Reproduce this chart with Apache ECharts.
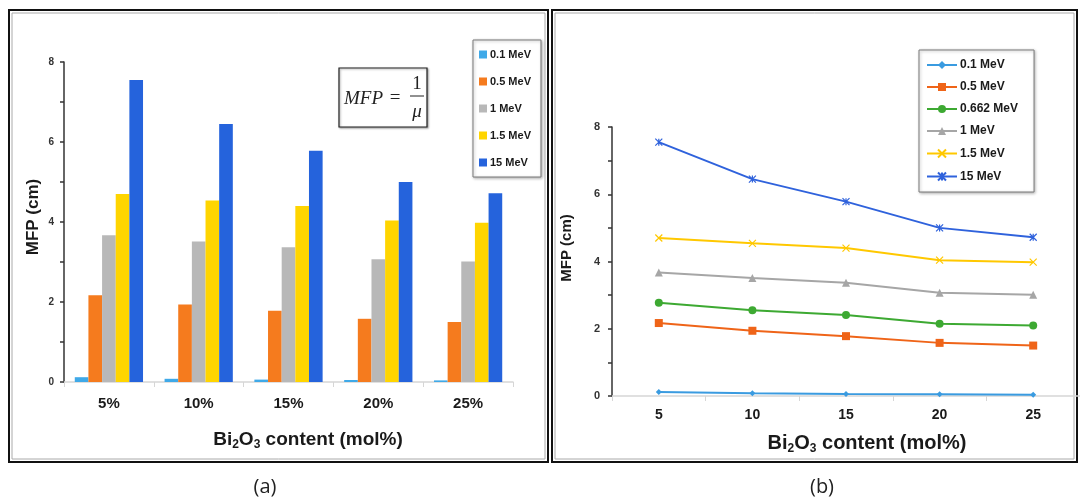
<!DOCTYPE html>
<html>
<head>
<meta charset="utf-8">
<script src="https://cdn.jsdelivr.net/npm/echarts@6/dist/echarts.min.js"></script>
<style>html,body{margin:0;padding:0;background:#fff}#c{width:1080px;height:500px}</style>
</head>
<body>
<div id="c"></div>
<script>
// ---- data ----
const categoriesA = ['5%', '10%', '15%', '20%', '25%'];
const categoriesB = ['5', '10', '15', '20', '25'];
const energiesA = ['0.1 MeV', '0.5 MeV', '1 MeV', '1.5 MeV', '15 MeV'];
const energiesB = ['0.1 MeV', '0.5 MeV', '0.662 MeV', '1 MeV', '1.5 MeV', '15 MeV'];
const yTicks = [0, 2, 4, 6, 8];

const mfp_0_1   = [0.12, 0.08, 0.06, 0.05, 0.04];
const mfp_0_5   = [2.17, 1.94, 1.78, 1.58, 1.50];
const mfp_0_662 = [2.77, 2.55, 2.41, 2.15, 2.10];
const mfp_1     = [3.67, 3.51, 3.37, 3.07, 3.01];
const mfp_1_5   = [4.70, 4.54, 4.40, 4.04, 3.98];
const mfp_15    = [7.55, 6.45, 5.78, 5.00, 4.72];

const barData = [mfp_0_1, mfp_0_5, mfp_1, mfp_1_5, mfp_15];
const lineData = [mfp_0_1, mfp_0_5, mfp_0_662, mfp_1, mfp_1_5, mfp_15];

// ---- styles ----
const barColors = ['#3fa9e8', '#f57b1e', '#b8b8b8', '#ffd500', '#2563dc'];
const lineColors = ['#3a9be0', '#ef6418', '#3da932', '#a6a6a6', '#ffc800', '#2f62dc'];
const lineSymbols = ['diamond', 'rect', 'circle', 'triangle',
  'path://M0,0L10,10M10,0L0,10',
  'path://M0,0L10,10M10,0L0,10M5,0L5,10'];
const lineSymbolSizes = [6, 8, 8, 8, 7, 7];
const SANS = '"Liberation Sans", Arial, sans-serif';
const txt = '#1a1a1a';

const chart = echarts.init(document.getElementById('c'));

const series = [];
barData.forEach((d, i) => {
  series.push({
    type: 'bar', name: energiesA[i], xAxisIndex: 0, yAxisIndex: 0, data: d,
    barGap: '0%', barCategoryGap: '24%',
    itemStyle: { color: barColors[i] }
  });
});
lineData.forEach((d, i) => {
  const isPath = lineSymbols[i].startsWith('path');
  series.push({
    type: 'line', name: 'b:' + energiesB[i], xAxisIndex: 1, yAxisIndex: 1, data: d,
    symbol: lineSymbols[i], symbolSize: lineSymbolSizes[i],
    lineStyle: { color: lineColors[i], width: 2 },
    itemStyle: isPath ? { color: 'none', borderColor: lineColors[i], borderWidth: 1.2 } : { color: lineColors[i] }
  });
});

const yAxisBase = (labelSize, margin) => ({
  type: 'value', min: yTicks[0], max: yTicks[yTicks.length - 1], interval: 2,
  axisLine: { show: true, lineStyle: { color: '#333', width: 1.5 } },
  axisTick: { show: true, length: 4, lineStyle: { color: '#333', width: 1.5 } },
  minorTick: { show: true, splitNumber: 2, length: 4, lineStyle: { color: '#333', width: 1.5 } },
  splitLine: { show: false },
  axisLabel: { fontSize: labelSize, fontWeight: 'bold', color: '#333', fontFamily: SANS, margin: margin }
});

const xAxisBase = (cats, labelSize, margin) => ({
  type: 'category', data: cats, boundaryGap: true,
  axisLine: { show: true, lineStyle: { color: '#d6d6d6', width: 1.5 } },
  axisTick: { show: true, length: 5, lineStyle: { color: '#d6d6d6' } },
  axisLabel: { fontSize: labelSize, fontWeight: 'bold', color: txt, fontFamily: SANS, margin: margin }
});

const legendBase = {
  orient: 'vertical', backgroundColor: '#fff',
  borderColor: '#7a7a7a', borderWidth: 1,
  shadowBlur: 3, shadowColor: 'rgba(0,0,0,0.3)', shadowOffsetX: 1, shadowOffsetY: 1,
  formatter: n => n.replace(/^b:/, ''),
  selectedMode: false
};

const sub = {
  n: { fontWeight: 'bold', fontFamily: SANS, fill: txt, verticalAlign: 'bottom', lineHeight: 22 },
  s: { fontWeight: 'bold', fontFamily: SANS, fill: txt, verticalAlign: 'bottom', lineHeight: 22 }
};
function xNameText(x, y, size) {
  return {
    type: 'text', x: x, y: y, z: 10,
    style: {
      text: '{n|Bi}{s|2}{n|O}{s|3}{n| content (mol%)}',
      align: 'center', verticalAlign: 'middle',
      rich: {
        n: Object.assign({}, sub.n, { fontSize: size }),
        s: Object.assign({}, sub.s, { fontSize: Math.round(size * 0.62), padding: [0, 0, -2, 0] })
      }
    }
  };
}

chart.setOption({
  backgroundColor: '#fff',
  animation: false,
  grid: [
    { left: 64, top: 62, width: 449, height: 320 },
    { left: 612, top: 127, width: 470, height: 269 }
  ],
  xAxis: [xAxisBase(categoriesA, 15, 14), Object.assign(xAxisBase(categoriesB, 14, 12), { gridIndex: 1 })],
  yAxis: [yAxisBase(10, 10), Object.assign(yAxisBase(11, 12), { gridIndex: 1 })],
  legend: [
    Object.assign({}, legendBase, {
      left: 473, top: 40, padding: [9, 10, 9, 6],
      itemWidth: 8, itemHeight: 8, itemGap: 16,
      data: energiesA.map(n => ({ name: n, icon: 'rect' })),
      textStyle: { fontSize: 11, fontWeight: 'bold', color: txt, fontFamily: SANS, padding: [0, 0, 0, -2] }
    }),
    Object.assign({}, legendBase, {
      left: 919, top: 50, padding: [9, 16, 9, 7],
      itemWidth: 30, itemHeight: 10, itemGap: 10,
      data: energiesB.map(n => 'b:' + n),
      textStyle: { fontSize: 12, fontWeight: 'bold', color: txt, fontFamily: SANS, padding: [0, 0, 0, -2] }
    })
  ],
  series: series,
  graphic: [
    // panel frames
    { type: 'rect', z: -1, shape: { x: 9, y: 10, width: 539, height: 452 }, style: { fill: 'none', stroke: '#111', lineWidth: 2 } },
    { type: 'rect', z: -1, shape: { x: 12, y: 13, width: 533, height: 446 }, style: { fill: 'none', stroke: '#aaa', lineWidth: 1 } },
    { type: 'rect', z: -1, shape: { x: 552, y: 10, width: 525, height: 452 }, style: { fill: 'none', stroke: '#111', lineWidth: 2 } },
    { type: 'rect', z: -1, shape: { x: 555, y: 13, width: 519, height: 446 }, style: { fill: 'none', stroke: '#aaa', lineWidth: 1 } },
    // formula box
    { type: 'rect', z: 5, shape: { x: 339, y: 68, width: 88, height: 59 },
      style: { fill: '#fff', stroke: '#222', lineWidth: 1.2, shadowBlur: 2, shadowColor: 'rgba(0,0,0,0.35)', shadowOffsetX: 1, shadowOffsetY: 1 } },
    { type: 'text', z: 6, x: 344, y: 99, style: { text: 'MFP', font: 'italic 19px "Liberation Serif", serif', fill: '#222', verticalAlign: 'middle' } },
    { type: 'text', z: 6, x: 395, y: 98, style: { text: '=', font: '19px "Liberation Serif", serif', fill: '#222', align: 'center', verticalAlign: 'middle' } },
    { type: 'text', z: 6, x: 417, y: 84, style: { text: '1', font: '19px "Liberation Serif", serif', fill: '#222', align: 'center', verticalAlign: 'middle' } },
    { type: 'line', z: 6, shape: { x1: 410, y1: 96, x2: 424, y2: 96 }, style: { stroke: '#222', lineWidth: 1 } },
    { type: 'text', z: 6, x: 417, y: 112, style: { text: 'μ', font: 'italic 19px "Liberation Serif", serif', fill: '#222', align: 'center', verticalAlign: 'middle' } },
    // axis names
    { type: 'text', z: 10, x: 33, y: 217, rotation: Math.PI / 2,
      style: { text: 'MFP (cm)', font: 'bold 17px "Liberation Sans", Arial, sans-serif', fill: txt, align: 'center', verticalAlign: 'middle' } },
    { type: 'text', z: 10, x: 567, y: 248, rotation: Math.PI / 2,
      style: { text: 'MFP (cm)', font: 'bold 15px "Liberation Sans", Arial, sans-serif', fill: txt, align: 'center', verticalAlign: 'middle' } },
    xNameText(308, 438, 19),
    xNameText(867, 442, 20),
    // panel captions
    { type: 'text', x: 265, y: 487, style: { text: '(a)', font: '20px "Open Sans", sans-serif', fill: '#222', align: 'center', verticalAlign: 'middle' } },
    { type: 'text', x: 822, y: 487, style: { text: '(b)', font: '20px "Open Sans", sans-serif', fill: '#222', align: 'center', verticalAlign: 'middle' } }
  ]
});
</script>
</body>
</html>
